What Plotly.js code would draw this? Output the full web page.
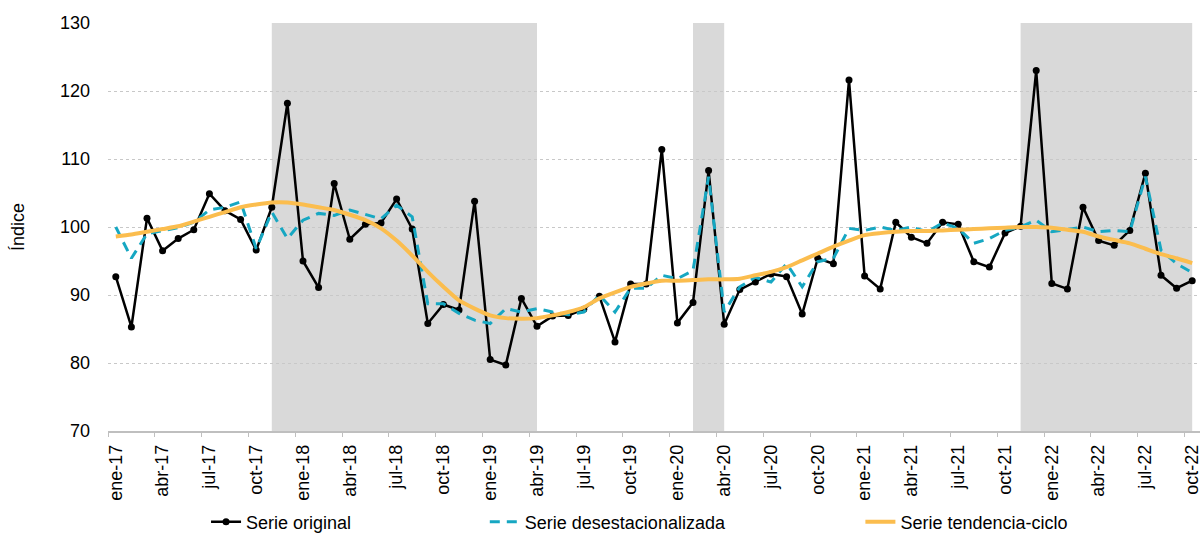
<!DOCTYPE html>
<html>
<head>
<meta charset="utf-8">
<script src="https://cdn.plot.ly/plotly-3.0.1.min.js"></script>
<style>html,body{margin:0;padding:0;background:#fff;}#chart{width:1200px;height:536px;}</style>
</head>
<body>
<div id="chart"></div>
<script>
const months = [
  "ene-17","feb-17","mar-17","abr-17","may-17","jun-17","jul-17","ago-17","sep-17","oct-17","nov-17","dic-17",
  "ene-18","feb-18","mar-18","abr-18","may-18","jun-18","jul-18","ago-18","sep-18","oct-18","nov-18","dic-18",
  "ene-19","feb-19","mar-19","abr-19","may-19","jun-19","jul-19","ago-19","sep-19","oct-19","nov-19","dic-19",
  "ene-20","feb-20","mar-20","abr-20","may-20","jun-20","jul-20","ago-20","sep-20","oct-20","nov-20","dic-20",
  "ene-21","feb-21","mar-21","abr-21","may-21","jun-21","jul-21","ago-21","sep-21","oct-21","nov-21","dic-21",
  "ene-22","feb-22","mar-22","abr-22","may-22","jun-22","jul-22","ago-22","sep-22","oct-22"
];

const serieOriginal = [
  92.7, 85.3, 101.3, 96.5, 98.3, 99.6, 104.9, 102.4, 101.1, 96.6, 102.9, 118.2,
  95.0, 91.1, 106.4, 98.2, 100.4, 100.6, 104.1, 99.7, 85.8, 88.6, 87.8, 103.8,
  80.5, 79.7, 89.5, 85.4, 86.9, 87.0, 87.9, 89.8, 83.1, 91.6, 91.6, 111.4,
  85.9, 88.9, 108.3, 85.7, 90.8, 91.9, 93.1, 92.7, 87.2, 95.4, 94.6, 121.6,
  92.8, 90.9, 100.7, 98.5, 97.6, 100.7, 100.4, 94.9, 94.1, 99.1, 100.1, 123.0,
  91.7, 90.9, 102.9, 98.0, 97.3, 99.5, 107.9, 92.9, 91.0, 92.1
];

const serieDesest = [
  100.0, 95.4, 99.0, 99.5, 99.9, 100.7, 102.5, 102.9, 103.7, 96.8, 102.2, 98.3,
  101.0, 102.0, 101.7, 102.5, 101.8, 101.2, 103.2, 101.5, 88.7, 88.7, 87.3, 86.3,
  85.8, 88.0, 87.5, 88.0, 87.5, 87.1, 87.5, 90.0, 87.5, 91.0, 91.0, 92.9,
  92.4, 93.6, 107.4, 87.5, 91.2, 92.6, 91.9, 94.6, 91.2, 94.9, 95.4, 99.8,
  99.5, 100.0, 99.5, 100.0, 99.3, 100.6, 99.8, 97.6, 98.3, 99.5, 100.0, 101.0,
  99.3, 99.6, 100.0, 99.3, 99.5, 99.3, 107.4, 96.6, 94.6, 93.3
];

const serieTendencia = [
  98.6, 98.9, 99.3, 99.7, 100.1, 100.8, 101.5, 102.2, 102.9, 103.3, 103.6, 103.6,
  103.3, 102.9, 102.5, 101.8, 101.0, 99.8, 98.0, 95.8, 93.4, 91.2, 89.2, 88.0,
  87.0, 86.6, 86.5, 86.6, 87.0, 87.5, 88.2, 89.5, 90.4, 91.2, 91.7, 92.1,
  92.1, 92.2, 92.3, 92.3, 92.4, 92.9, 93.4, 94.1, 95.1, 96.1, 97.1, 98.0,
  98.8, 99.1, 99.3, 99.4, 99.4, 99.5, 99.6, 99.7, 99.8, 99.9, 100.0, 100.0,
  99.9, 99.6, 99.3, 98.6, 98.1, 97.6, 96.8, 96.0, 95.4, 94.7
];

// shaded periods (category from / to)
const bandStart = ["nov-17", "feb-20", "nov-21"];
const bandEnd   = ["abr-19", "abr-20", "oct-22"];

const tickLabels = months.filter((m, i) => i % 3 === 0);

const fontFam = "Liberation Sans, Arial, Helvetica, sans-serif";

const traces = [
  {
    x: months, y: serieOriginal, type: "scatter", mode: "lines+markers",
    name: "Serie original",
    line: {color: "#000000", width: 2.5},
    marker: {color: "#000000", size: 7},
    legend: "legend"
  },
  {
    x: months, y: serieDesest, type: "scatter", mode: "lines",
    name: "Serie desestacionalizada",
    line: {color: "#16A7C2", width: 3, dash: "10px,7px"},
    legend: "legend2"
  },
  {
    x: months, y: serieTendencia, type: "scatter", mode: "lines",
    name: "Serie tendencia-ciclo",
    line: {color: "#FBBD4E", width: 4, shape: "spline", smoothing: 0.6},
    legend: "legend3"
  },
  {
    x: [-0.5, 69.5], y: [70, 70], xaxis: "x2", type: "scatter", mode: "lines",
    line: {color: "rgba(0,0,0,0)", width: 0}, showlegend: false, hoverinfo: "skip"
  }
];

const boundaryTicks = tickLabels.map((m) => months.indexOf(m) - 0.5);

const shapes = bandStart.map((s, i) => ({
  type: "rect", xref: "x", yref: "paper",
  x0: months.indexOf(s), x1: months.indexOf(bandEnd[i]),
  y0: 0, y1: 1,
  fillcolor: "#D9D9D9", line: {width: 0}, layer: "between"
}));

const legendCommon = {
  orientation: "h", xref: "container", yref: "container",
  yanchor: "middle", y: 0.026, bgcolor: "rgba(0,0,0,0)",
  font: {family: fontFam, size: 18, color: "#000"}
};

const layout = {
  width: 1200, height: 536,
  margin: {l: 108, r: 0, t: 23, b: 105},
  paper_bgcolor: "#ffffff", plot_bgcolor: "#ffffff",
  font: {family: fontFam, size: 18, color: "#000"},
  xaxis: {
    type: "category", range: [-0.5, 69.5],
    tickmode: "array", tickvals: tickLabels, ticktext: tickLabels,
    tickangle: -90, ticks: "", showgrid: false,
    showline: true, linecolor: "#BFBFBF", linewidth: 1.5,
    ticklabelstandoff: 5,
    tickfont: {family: fontFam, size: 18, color: "#000"},
    fixedrange: true
  },
  xaxis2: {
    overlaying: "x", anchor: "y", type: "linear", range: [-0.5, 69.5],
    tickmode: "array", tickvals: boundaryTicks, ticks: "outside", ticklen: 5,
    tickcolor: "#BFBFBF", tickwidth: 1, showticklabels: false, showgrid: false,
    showline: false, zeroline: false
  },
  yaxis: {
    range: [70, 130], tickmode: "array", tickvals: [70, 80, 90, 100, 110, 120, 130],
    showgrid: true, gridcolor: "#C8C8C8", gridwidth: 1, griddash: "3px,3px",
    zeroline: false, showline: false, ticks: "",
    ticklabelstandoff: 17,
    tickfont: {family: fontFam, size: 18, color: "#000"},
    title: {text: "Índice", font: {family: fontFam, size: 18, color: "#000"}, standoff: 30}
  },
  shapes: shapes,
  legend: Object.assign({}, legendCommon, {x: 0.1717}),
  legend2: Object.assign({}, legendCommon, {x: 0.404}),
  legend3: Object.assign({}, legendCommon, {x: 0.717}),
  showlegend: true
};

Plotly.newPlot("chart", traces, layout, {displayModeBar: false, staticPlot: true});
</script>
</body>
</html>
